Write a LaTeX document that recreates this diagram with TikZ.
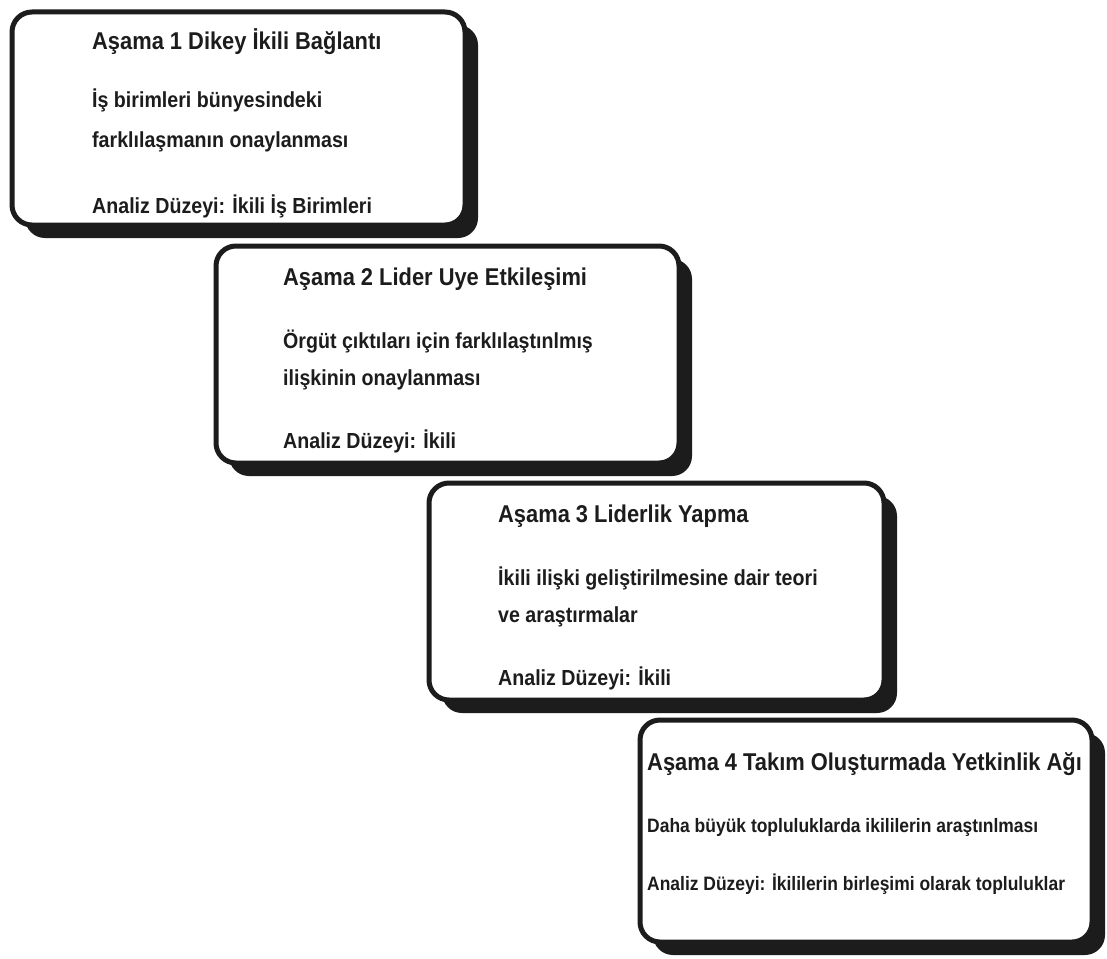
\documentclass[tikz,border=0pt]{standalone}
\usepackage{fontspec}
\newfontfamily\stagefont{Liberation Sans}[FakeStretch=0.9]
\usetikzlibrary{shadows}
\definecolor{ink}{HTML}{1C1C1C}
\tikzset{
  stagebox/.style={draw=ink, fill=white, line width=5pt, rounded corners=20pt,
    inner sep=0pt,
    drop shadow={shadow xshift=13pt, shadow yshift=-13pt, fill=ink, opacity=1}},
  headtext/.style={anchor=base west, inner sep=0pt, text=ink,
    font=\stagefont\bfseries\fontsize{24.3}{28}\selectfont},
  bodytext/.style={anchor=base west, inner sep=0pt, text=ink,
    font=\stagefont\bfseries\fontsize{21.8}{26}\selectfont},
  smalltext/.style={anchor=base west, inner sep=0pt, text=ink,
    font=\stagefont\bfseries\fontsize{19.4}{23}\selectfont},
}
\begin{document}
\begin{tikzpicture}[x=1pt, y=-1pt]
  \useasboundingbox[fill=white] (0,0) rectangle (1107,958);

  % the four stage frames, stepping down to the right
  \node[stagebox, minimum width=453pt, minimum height=213pt] (b1) at (238.5,118.5) {};
  \node[stagebox, minimum width=463pt, minimum height=217pt] (b2) at (447.5,354.5) {};
  \node[stagebox, minimum width=455pt, minimum height=217pt] (b3) at (656.5,591.5) {};
  \node[stagebox, minimum width=452pt, minimum height=222pt] (b4) at (866,831) {};

  % stage 1
  \node[headtext] (h1) at (92,50) {Aşama 1 Dikey İkili Bağlantı};
  \node[bodytext] (d1a) at (92,107) {İş birimleri bünyesindeki};
  \node[bodytext] (d1b) at (92,147) {farklılaşmanın onaylanması};
  \node[bodytext] (a1) at (92,213) {Analiz Düzeyi: İkili İş Birimleri};

  % stage 2
  \node[headtext] (h2) at (283,285) {Aşama 2 Lider Uye Etkileşimi};
  \node[bodytext] (d2a) at (283,348) {Örgüt çıktıları için farklılaştınlmış};
  \node[bodytext] (d2b) at (283,385) {ilişkinin onaylanması};
  \node[bodytext] (a2) at (283,448) {Analiz Düzeyi: İkili};

  % stage 3
  \node[headtext] (h3) at (498,522) {Aşama 3 Liderlik Yapma};
  \node[bodytext] (d3a) at (498,585) {İkili ilişki geliştirilmesine dair teori};
  \node[bodytext] (d3b) at (498,622) {ve araştırmalar};
  \node[bodytext] (a3) at (498,685) {Analiz Düzeyi: İkili};

  % stage 4
  \node[headtext] (h4) at (647,770) {Aşama 4 Takım Oluşturmada Yetkinlik Ağı};
  \node[smalltext] (d4) at (647,832) {Daha büyük topluluklarda ikililerin araştınlması};
  \node[smalltext] (a4) at (647,890) {Analiz Düzeyi: İkililerin birleşimi olarak topluluklar};
\end{tikzpicture}
\end{document}
